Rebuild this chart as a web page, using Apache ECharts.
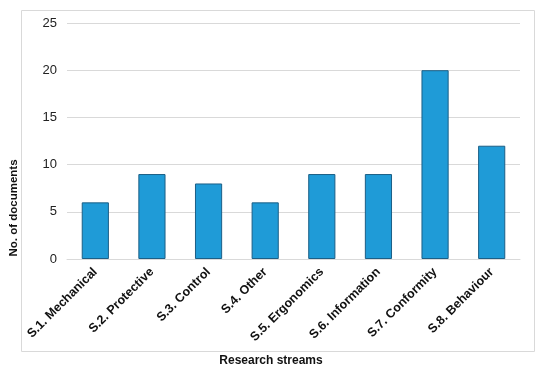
<!DOCTYPE html>
<html><head><meta charset="utf-8">
<script src="https://cdn.jsdelivr.net/npm/echarts@6/dist/echarts.min.js"></script>
<style>html,body{margin:0;padding:0;background:#fff}#c{width:550px;height:375px}</style>
</head><body><div id="c"></div>
<script>
const categories = ['S.1. Mechanical','S.2. Protective','S.3. Control','S.4. Other','S.5. Ergonomics','S.6. Information','S.7. Conformity','S.8. Behaviour'];
const documents = [6, 9, 8, 6, 9, 9, 20, 12];
const xTitle = 'Research streams';
const yTitle = 'No. of documents';

const chart = echarts.init(document.getElementById('c'), null, {renderer:'canvas'});
chart.setOption({
  animation: false,
  grid: {left: 67, right: 30, top: 23, bottom: 116},
  graphic: [
    {type:'rect', shape:{x:21.5, y:10.5, width:513, height:341}, style:{fill:'none', stroke:'#d9d9d9', lineWidth:1}, z:-1},
    {type:'text', x: 271, y: 361, style:{text: xTitle, font:'bold 12px Arial', fill:'#111', align:'center', verticalAlign:'middle'}},
    {type:'text', x: 14, y: 208, rotation: Math.PI/2, style:{text: yTitle, font:'bold 11.5px Arial', fill:'#111', align:'center', verticalAlign:'middle'}}
  ],
  xAxis: {
    type: 'category', data: categories,
    axisLine: {lineStyle:{color:'#d9d9d9'}},
    axisTick: {show:false},
    axisLabel: {rotate: 45, interval: 0, fontFamily:'Arial', fontWeight:'bold', fontSize: 12.5, color:'#111', margin: 11}
  },
  yAxis: {
    type: 'value', min: 0, max: 25, interval: 5,
    axisLine: {show:false}, axisTick: {show:false},
    splitLine: {lineStyle:{color:'#d9d9d9'}},
    axisLabel: {fontFamily:'Arial', fontSize: 13, color:'#222', margin: 10}
  },
  series: [{
    type: 'bar', data: documents, barWidth: '48%',
    itemStyle: {color:'#1f9bd7', borderColor:'#1c5f86', borderWidth:1}
  }]
});
</script></body></html>
